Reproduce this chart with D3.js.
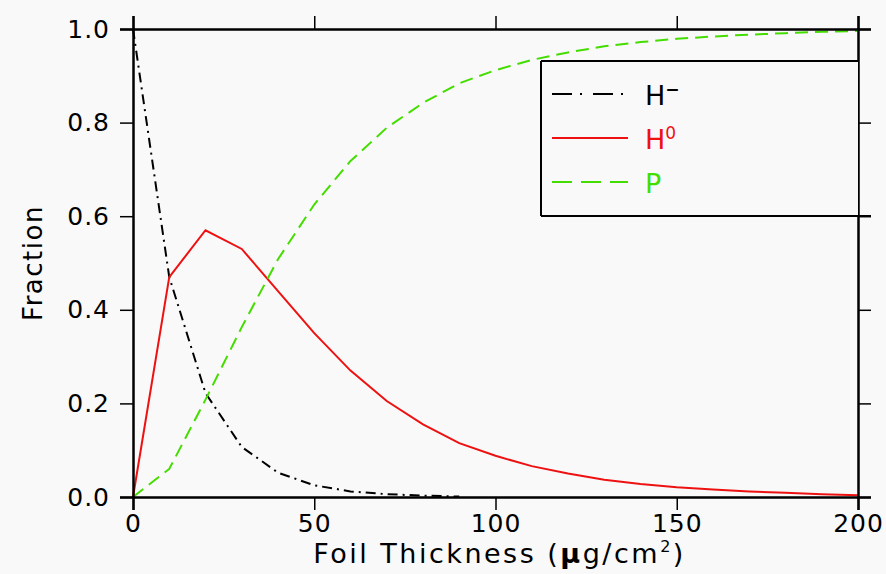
<!DOCTYPE html>
<html>
<head>
<meta charset="utf-8">
<script src="https://cdn.jsdelivr.net/npm/d3@7"></script>
<style>
  body { margin: 0; background: #f9f9f9; }
  svg { display: block; font-family: "DejaVu Sans", sans-serif; }
  .axis path { stroke: #000; stroke-width: 2.5; }
  .axis line { stroke: #000; stroke-width: 1.5; }
</style>
</head>
<body>
<div id="chart"></div>
<script>
// foil thickness (ug/cm2)
var thickness = [0, 10, 20, 30, 40, 50, 60, 70, 80, 90, 100, 110, 120, 130, 140, 150, 160, 170, 180, 190, 200];
// H- fraction (drawn until it reaches zero)
var hMinus = [1.0, 0.47, 0.222, 0.107, 0.052, 0.025, 0.012, 0.006, 0.003, 0.001];
// H0 fraction
var hZero = [0, 0.47, 0.57, 0.53, 0.44, 0.35, 0.27, 0.205, 0.155, 0.115, 0.088, 0.066, 0.05, 0.037, 0.028, 0.021, 0.016, 0.012, 0.009, 0.006, 0.004];
// proton fraction
var proton = [0, 0.06, 0.208, 0.363, 0.508, 0.625, 0.718, 0.789, 0.842, 0.884, 0.912, 0.934, 0.95, 0.963, 0.972, 0.979, 0.984, 0.988, 0.991, 0.994, 0.996];

var xTicks = [0, 50, 100, 150, 200];
var yTicks = [0, 0.2, 0.4, 0.6, 0.8, 1.0];

var W = 886, H = 574;
var margin = {top: 29, right: 28, bottom: 77, left: 133};
var width = W - margin.left - margin.right,
    height = H - margin.top - margin.bottom;

var svg = d3.select("#chart").append("svg")
    .attr("width", W)
    .attr("height", H);

svg.append("rect").attr("width", W).attr("height", H).attr("fill", "#f9f9f9");

var g = svg.append("g")
    .attr("transform", "translate(" + margin.left + "," + margin.top + ")");

var x = d3.scaleLinear().domain([0, 200]).range([0, width]);
var y = d3.scaleLinear().domain([0, 1]).range([height, 0]);

// curves
var series = [
  {name: "minus", vals: hMinus, color: "#000", dash: "10,5,2,5", legendDash: "20,8,2,11"},
  {name: "zero", vals: hZero, color: "#ee1111", dash: null, legendDash: null},
  {name: "p", vals: proton, color: "#44dd00", dash: "13,7", legendDash: "20,9"}
];

var line = d3.line()
    .x(function(d) { return x(d[0]); })
    .y(function(d) { return y(d[1]); });

series.forEach(function(s) {
  var pts = s.vals.map(function(v, i) { return [thickness[i], v]; });
  g.append("path")
    .datum(pts)
    .attr("d", line)
    .attr("fill", "none")
    .attr("stroke", s.color)
    .attr("stroke-width", 2)
    .attr("stroke-dasharray", s.dash);
});

// axes on all four sides, outward ticks
var tickLen = 13;
var fmt = d3.format(".1f");

g.append("g").attr("class", "axis")
  .attr("transform", "translate(0," + height + ")")
  .call(d3.axisBottom(x).tickValues(xTicks).tickSize(tickLen).tickSizeOuter(tickLen).tickPadding(4))
  .selectAll("text").attr("font-size", 25).attr("letter-spacing", 1).attr("fill", "#000").attr("font-family", "DejaVu Sans");

g.append("g").attr("class", "axis")
  .call(d3.axisTop(x).tickValues(xTicks).tickSize(tickLen).tickSizeOuter(tickLen).tickFormat(""));

g.append("g").attr("class", "axis")
  .call(d3.axisLeft(y).tickValues(yTicks).tickSize(tickLen).tickSizeOuter(tickLen).tickFormat(fmt).tickPadding(10))
  .selectAll("text").attr("font-size", 25).attr("letter-spacing", 1).attr("fill", "#000").attr("font-family", "DejaVu Sans");

g.append("g").attr("class", "axis")
  .attr("transform", "translate(" + width + ",0)")
  .call(d3.axisRight(y).tickValues(yTicks).tickSize(tickLen).tickSizeOuter(tickLen).tickFormat(""));

// axis titles
var xt = svg.append("text")
    .attr("x", margin.left + x(100) + 4)
    .attr("y", 563)
    .attr("text-anchor", "middle")
    .attr("font-size", 27)
    .attr("letter-spacing", 2.5)
    .attr("fill", "#000");
xt.append("tspan").text("Foil Thickness (");
xt.append("tspan").attr("font-weight", "bold").text("μ");
xt.append("tspan").text("g/cm");
xt.append("tspan").attr("font-size", 16).attr("dy", -11).text("2");
xt.append("tspan").attr("dy", 11).text(")");

svg.append("text")
    .attr("transform", "translate(42," + (margin.top + y(0.5)) + ") rotate(-90)")
    .attr("text-anchor", "middle")
    .attr("font-size", 26)
    .attr("letter-spacing", 1.5)
    .attr("fill", "#000")
    .text("Fraction");

// legend
var lg = svg.append("g");
var bx0 = 541, bx1 = margin.left + width, by0 = 61, by1 = 216;
lg.append("rect")
  .attr("x", bx0).attr("y", by0)
  .attr("width", bx1 - bx0).attr("height", by1 - by0)
  .attr("fill", "#f9f9f9");
lg.append("line").attr("x1", bx0).attr("x2", bx1).attr("y1", by0).attr("y2", by0);
lg.append("line").attr("x1", bx0).attr("x2", bx0).attr("y1", by0).attr("y2", by1);
lg.append("line").attr("x1", bx0).attr("x2", bx1 + tickLen).attr("y1", by1).attr("y2", by1);
lg.selectAll("line").attr("stroke", "#000").attr("stroke-width", 2);

var legendY = [94, 138, 182];
var labels = [["H", "−"], ["H", "0"], ["P", ""]];
series.forEach(function(s, i) {
  lg.append("line")
    .attr("x1", 552).attr("x2", 628)
    .attr("y1", legendY[i]).attr("y2", legendY[i])
    .attr("stroke", s.color)
    .attr("stroke-width", 2)
    .attr("stroke-dasharray", s.legendDash);
  var t = lg.append("text")
    .attr("x", 645)
    .attr("y", legendY[i] + 11)
    .attr("font-size", 27)
    .attr("fill", s.color);
  t.append("tspan").text(labels[i][0]);
  if (labels[i][1]) {
    t.append("tspan").attr("font-size", 17).attr("dy", -10).attr("font-weight", labels[i][1] === "−" ? "bold" : "normal").text(labels[i][1]);
  }
});
</script>
</body>
</html>
